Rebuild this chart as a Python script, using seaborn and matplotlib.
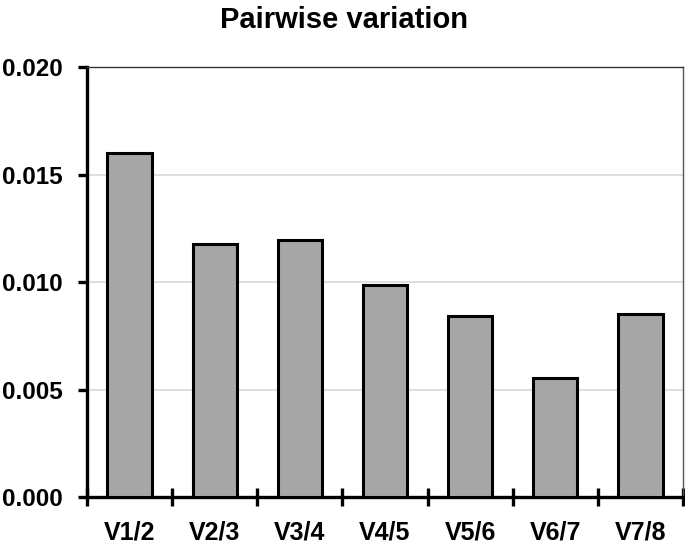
import numpy as np
import pandas as pd
import matplotlib
matplotlib.use("Agg")
import matplotlib.pyplot as plt
import seaborn as sns

# data
pairs = ["V1/2", "V2/3", "V3/4", "V4/5", "V5/6", "V6/7", "V7/8"]
variation = [0.0160, 0.01177, 0.01195, 0.00986, 0.00842, 0.00553, 0.00851]
yticks = [0.000, 0.005, 0.010, 0.015, 0.020]

df = pd.DataFrame({"pair": pairs, "V": variation})

sns.set_theme(style="white")
plt.rcParams["font.family"] = ["Liberation Sans", "DejaVu Sans"]
plt.rcParams["font.weight"] = "bold"
plt.rcParams["text.color"] = "black"
plt.rcParams["xtick.labelcolor"] = "black"
plt.rcParams["ytick.labelcolor"] = "black"

fig = plt.figure(figsize=(6.85, 5.52), dpi=100)
ax = fig.add_axes([0.127, 0.0996, 0.870, 0.779])

sns.barplot(data=df, x="pair", y="V", color="#a6a6a6", saturation=1,
            edgecolor="black", linewidth=2.2, width=0.52, ax=ax, zorder=3)

ax.set_xlim(-0.5, len(pairs) - 0.5)
ax.set_ylim(0, 0.020)
ax.set_yticks(yticks)
ax.set_yticklabels([f"{v:.3f}" for v in yticks], fontsize=17.5, fontweight="bold",
                   color="black")
ax.set_xticklabels(pairs, fontsize=18, fontweight="bold", color="black")
ax.set_xlabel("")
ax.set_ylabel("")

# gridlines
for v in yticks[1:-1]:
    ax.axhline(v, color="#d9d9d9", lw=1.2, zorder=0)

# spines
for s in ["left", "bottom"]:
    ax.spines[s].set_color("black")
    ax.spines[s].set_linewidth(2.4)
ax.spines["top"].set_color("#333333")
ax.spines["top"].set_linewidth(1.0)
ax.spines["right"].set_color("#555555")
ax.spines["right"].set_linewidth(1.0)

# ticks: y outward, x ticks at category boundaries
ax.tick_params(axis="y", which="major", left=True, direction="out", length=6.5,
               width=2.4, color="black", pad=11)
ax.tick_params(axis="x", which="major", bottom=False, length=0, pad=17)
ax.set_xticks(np.arange(-0.5, len(pairs)), minor=True)
ax.tick_params(axis="x", which="minor", bottom=True, direction="inout", length=13,
               width=2.4, color="black")

fig.text(0.502, 0.95, "Pairwise variation", ha="center", va="baseline",
         fontsize=21, fontweight="bold", color="black")

fig.savefig("out.png", dpi=100)
